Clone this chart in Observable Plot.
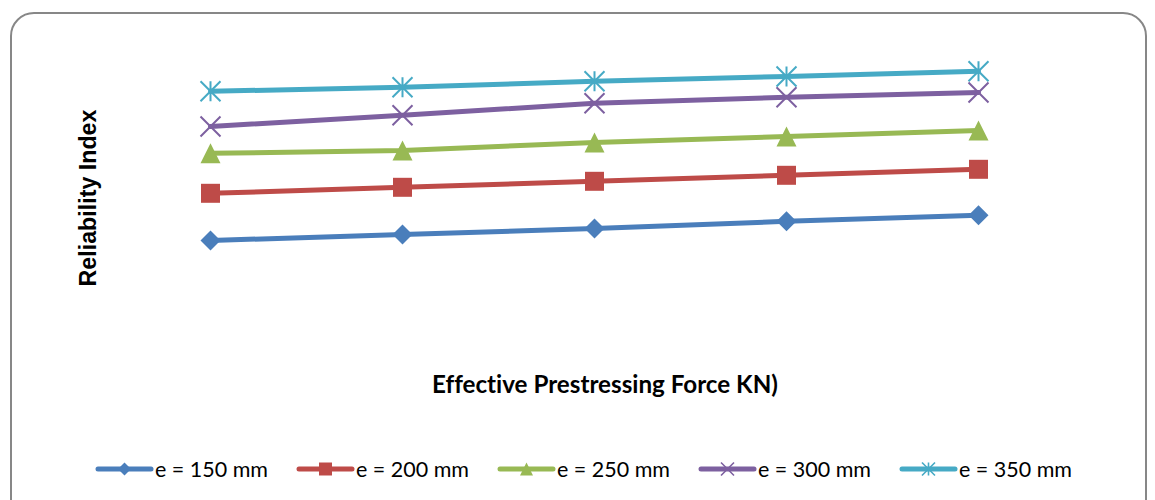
<!DOCTYPE html>
<html>
<head>
<meta charset="utf-8">
<script src="https://cdn.jsdelivr.net/npm/d3@7"></script>
<script src="https://cdn.jsdelivr.net/npm/@observablehq/plot@0.6"></script>
<style>
html,body{margin:0;padding:0;background:#fff;width:1155px;height:500px;overflow:hidden;position:relative;}
#frame{position:absolute;left:10px;top:12px;width:1137px;height:530px;border:2px solid #878787;border-radius:24px;box-sizing:border-box;}
#chart{position:absolute;left:0;top:0;}
#ytitle{position:absolute;left:88px;top:198px;transform:translate(-50%,-50%) rotate(-90deg);font-family:"Liberation Sans",Arial,sans-serif;font-weight:bold;font-size:23px;white-space:nowrap;color:#000;}
#xtitle{position:absolute;left:605px;top:383px;transform:translate(-50%,-50%);font-family:Lato,"Open Sans",sans-serif;font-weight:bold;font-size:24px;white-space:nowrap;color:#000;font-variant-ligatures:none;font-feature-settings:"liga" 0,"clig" 0;}
#legend{position:absolute;left:95px;top:457px;height:24px;display:flex;align-items:center;}
.item{width:201px;display:flex;align-items:center;height:24px;}
.item svg{flex:none;}
.item span{font-family:Lato,"Open Sans",sans-serif;font-size:22px;white-space:nowrap;color:#000;margin-left:1px;font-variant-ligatures:none;}
</style>
</head>
<body>
<div id="frame"></div>
<div id="chart"></div>
<div id="ytitle">Reliability Index</div>
<div id="xtitle">Effective Prestressing Force KN)</div>
<div id="legend"></div>
<script>
// ---- data (axes are hidden in the original) ----
const forceLevels = ["F1", "F2", "F3", "F4", "F5"];
const seriesNames = ["e = 150 mm", "e = 200 mm", "e = 250 mm", "e = 300 mm", "e = 350 mm"];
const e150 = [2.75, 2.90, 3.05, 3.23, 3.38];
const e200 = [3.93, 4.08, 4.23, 4.38, 4.53];
const e250 = [4.93, 5.00, 5.20, 5.35, 5.50];
const e300 = [5.60, 5.88, 6.18, 6.33, 6.45];
const e350 = [6.48, 6.58, 6.73, 6.85, 6.98];
const seriesValues = [e150, e200, e250, e300, e350];
const seriesColors = ["#4A7EBB", "#BE4B48", "#98B954", "#7D60A0", "#46AAC5"];

// ---- custom marker shapes (Excel-like) ----
const rOf = s => Math.sqrt(s / Math.PI);
const symDiamond = {draw(c, s){const r=rOf(s);c.moveTo(0,-r);c.lineTo(r,0);c.lineTo(0,r);c.lineTo(-r,0);c.closePath();}};
const symSquare = {draw(c, s){const r=rOf(s);c.moveTo(-r,-r);c.lineTo(r,-r);c.lineTo(r,r);c.lineTo(-r,r);c.closePath();}};
const symTriangle = {draw(c, s){const r=rOf(s);c.moveTo(0,-r);c.lineTo(r,r);c.lineTo(-r,r);c.closePath();}};
const symTimes = {draw(c, s){const r=rOf(s);c.moveTo(-r,-r);c.lineTo(r,r);c.moveTo(r,-r);c.lineTo(-r,r);}};
const symStar = {draw(c, s){const r=rOf(s);c.moveTo(-r,-r);c.lineTo(r,r);c.moveTo(r,-r);c.lineTo(-r,r);c.moveTo(0,-r);c.lineTo(0,r);}};
const seriesSymbols = [symDiamond, symSquare, symTriangle, symTimes, symStar];
const filled = [true, true, true, false, false];
const markerR = [10, 9.5, 10, 10, 10];

const rows = [];
seriesNames.forEach((name, i) => {
  forceLevels.forEach((f, j) => rows.push({series: name, force: f, value: seriesValues[i][j]}));
});

const marks = [];
seriesNames.forEach((name, i) => {
  const d = rows.filter(r => r.series === name);
  marks.push(Plot.line(d, {x: "force", y: "value", stroke: seriesColors[i], strokeWidth: 5, strokeLinejoin: "round", strokeLinecap: "round"}));
  marks.push(Plot.dot(d, {
    x: "force", y: "value", r: markerR[i], symbol: () => seriesSymbols[i],
    fill: filled[i] ? seriesColors[i] : "none",
    stroke: filled[i] ? "none" : seriesColors[i],
    strokeWidth: 2
  }));
});

const chart = Plot.plot({
  width: 1155,
  height: 360,
  marginTop: 30,
  marginBottom: 10,
  marginLeft: 114,
  marginRight: 81,
  style: {background: "transparent", overflow: "visible"},
  x: {type: "point", domain: forceLevels, padding: 0.5, axis: null},
  y: {domain: [0, 8], axis: null},
  marks
});
document.getElementById("chart").appendChild(chart);

// ---- legend ----
const legend = document.getElementById("legend");
seriesNames.forEach((name, i) => {
  const item = document.createElement("div");
  item.className = "item";
  const svg = d3.create("svg").attr("width", 59).attr("height", 24);
  svg.append("line").attr("x1", 3).attr("x2", 56).attr("y1", 12).attr("y2", 12)
    .attr("stroke", seriesColors[i]).attr("stroke-width", 5).attr("stroke-linecap", "round");
  svg.append("path").attr("transform", "translate(29.5,12)")
    .attr("d", d3.symbol(seriesSymbols[i], Math.PI * 6.5 * 6.5)())
    .attr("fill", filled[i] ? seriesColors[i] : "none")
    .attr("stroke", filled[i] ? "none" : seriesColors[i])
    .attr("stroke-width", 1.6);
  item.appendChild(svg.node());
  const sp = document.createElement("span");
  sp.textContent = name;
  item.appendChild(sp);
  legend.appendChild(item);
});

// fit text widths to the reference
function fit(el, target) {
  const fs = parseFloat(getComputedStyle(el).fontSize);
  const w = el.getBoundingClientRect().width;
  if (w > 0) el.style.fontSize = (fs * target / w) + "px";
}
fit(document.getElementById("xtitle"), 346);
document.querySelectorAll(".item span").forEach(sp => fit(sp, 113));
(function(){
  const el = document.getElementById("ytitle");
  const fs = parseFloat(getComputedStyle(el).fontSize);
  const h = el.getBoundingClientRect().height;
  if (h > 0) el.style.fontSize = (fs * 177 / h) + "px";
})();
</script>
</body>
</html>
